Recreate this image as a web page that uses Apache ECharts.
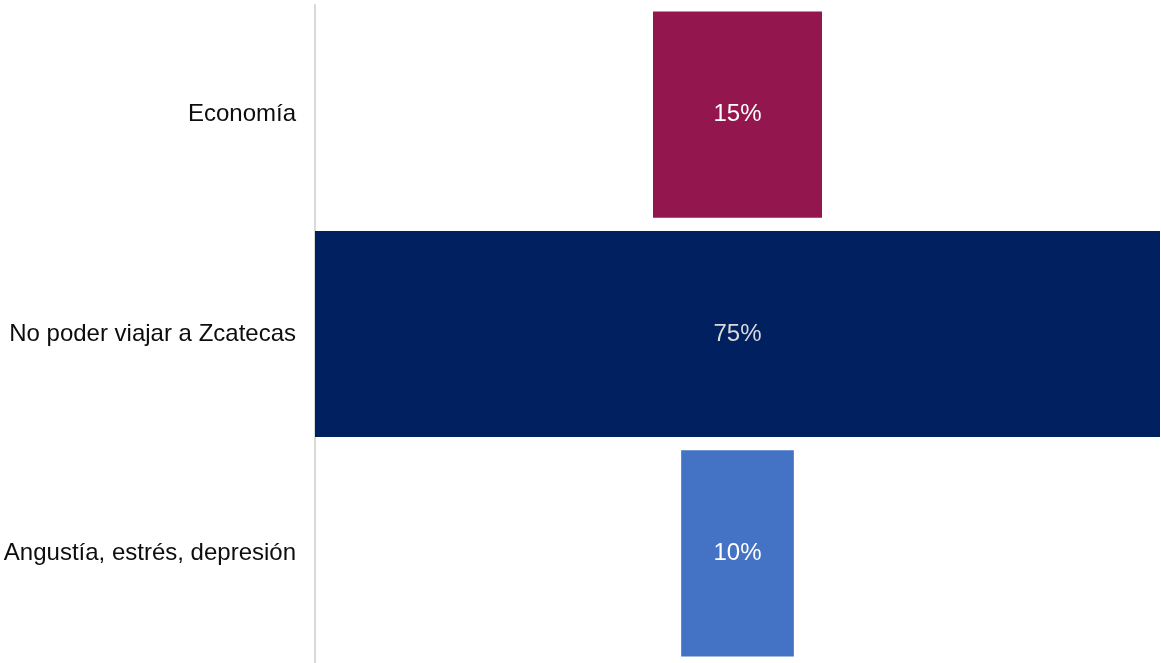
<!DOCTYPE html>
<html>
<head>
<meta charset="utf-8">
<style>
  html, body { margin: 0; padding: 0; background: #ffffff; }
  #chart { width: 1161px; height: 663px; }
</style>
<script src="https://cdn.jsdelivr.net/npm/echarts@6/dist/echarts.min.js"></script>
</head>
<body>
<div id="chart"></div>
<script>
const categories = ['Economía', 'No poder viajar a Zcatecas', 'Angustía, estrés, depresión'];
const values = [15, 75, 10];
const barColors = ['#93164E', '#002060', '#4472C4'];
const labelColors = ['#ffffff', '#d9d9d9', '#ffffff'];

// Centre each bar: an invisible spacer takes half of the leftover width
const maxValue = Math.max(...values);
const spacer = values.map(v => (maxValue - v) / 2);

const chart = echarts.init(document.getElementById('chart'));
chart.setOption({
  animation: false,
  grid: { left: 315, right: 1, top: 5, bottom: 0, containLabel: false },
  xAxis: {
    type: 'value', min: 0, max: maxValue, show: false
  },
  yAxis: {
    type: 'category',
    data: categories,
    inverse: true,
    axisLine: { show: true, lineStyle: { color: '#d9d9d9', width: 2 } },
    axisTick: { show: false },
    axisLabel: {
      margin: 19,
      fontSize: 24,
      color: '#0d0d0d',
      fontFamily: 'Liberation Sans, Arial, sans-serif'
    }
  },
  series: [
    {
      type: 'bar', stack: 'f', silent: true,
      data: spacer,
      itemStyle: { color: 'transparent' },
      barCategoryGap: '6%'
    },
    {
      type: 'bar', stack: 'f',
      data: values.map((v, i) => ({
        value: v,
        itemStyle: { color: barColors[i] },
        label: { color: labelColors[i] }
      })),
      barCategoryGap: '6%',
      label: {
        show: true,
        position: 'inside',
        fontSize: 24,
        fontFamily: 'Liberation Sans, Arial, sans-serif',
        formatter: p => p.value + '%'
      }
    }
  ]
});
</script>
</body>
</html>
